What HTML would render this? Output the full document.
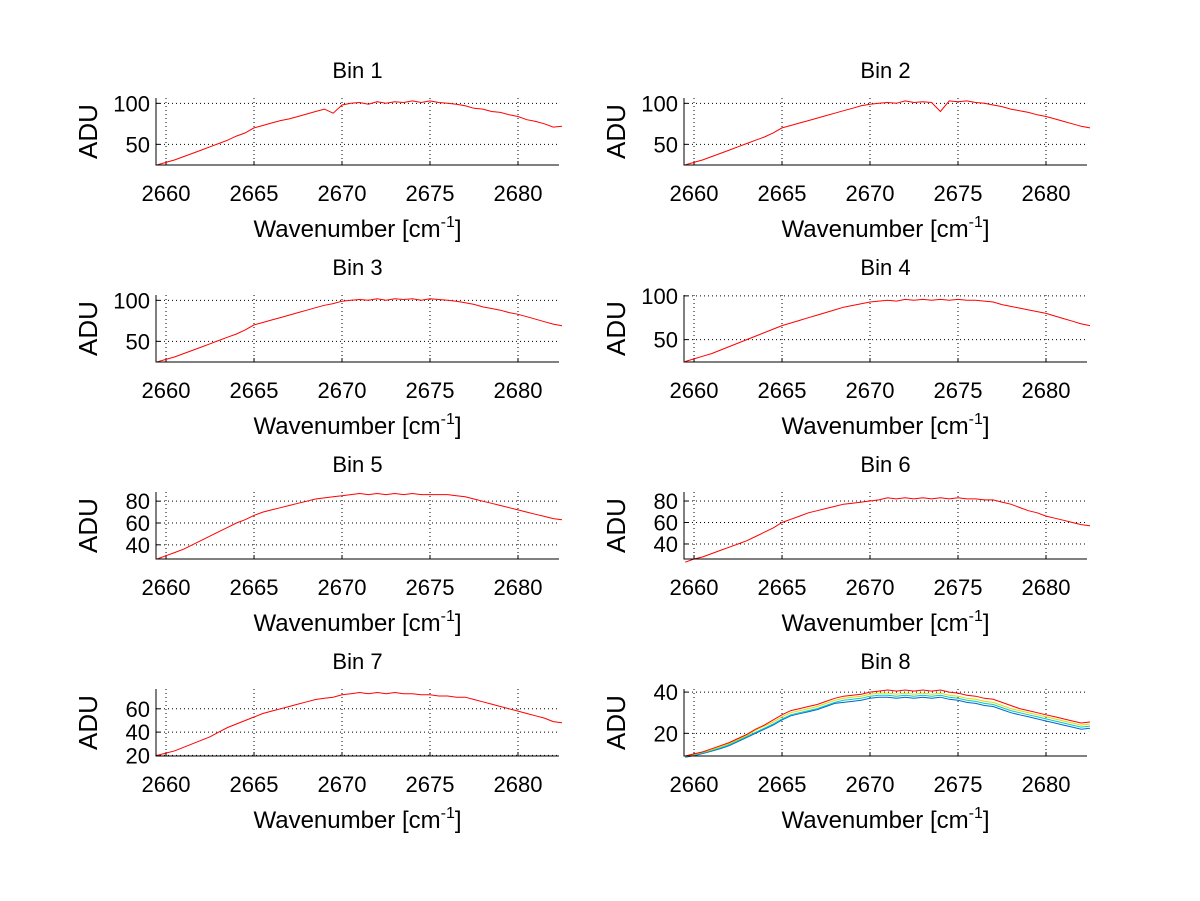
<!DOCTYPE html>
<html><head><meta charset="utf-8"><style>
html,body{margin:0;padding:0;background:#fff;}
svg{display:block;font-family:"Liberation Sans",sans-serif;}
</style></head><body>
<svg id="fig" width="1200" height="901" viewBox="0 0 1200 901" xmlns="http://www.w3.org/2000/svg"></svg>
<script>
const wavenumbers = [2659.5,2660,2660.5,2661,2661.5,2662,2662.5,2663,2663.5,2664,2664.5,2665,2665.5,2666,2666.5,2667,2667.5,2668,2668.5,2669,2669.5,2670,2670.5,2671,2671.5,2672,2672.5,2673,2673.5,2674,2674.5,2675,2675.5,2676,2676.5,2677,2677.5,2678,2678.5,2679,2679.5,2680,2680.5,2681,2681.5,2682,2682.5];
const xTicks = [2660,2665,2670,2675,2680];
const bin1 = [25,28,31,35,39,43,47,51,55,60,64,70,73,76,79,81,84,87,90,93,88,98,100,101,99,102,100,102,101,103,101,103,101,100,99,97,94,93,90,89,86,84,80,78,75,71,72];
const bin2 = [25,28,31,35,39,43,47,51,55,59,64,70,73,76,79,82,85,88,91,94,97,99,100,101,100,103,101,102,101,90,103,102,103,101,100,98,96,93,91,89,86,84,81,78,75,72,70];
const bin3 = [25,28,31,35,39,43,47,51,55,59,64,70,73,76,79,82,85,88,91,94,96,99,100,101,100,102,100,102,101,102,100,102,101,100,99,97,95,92,90,88,85,83,80,77,74,71,69];
const bin4 = [25,28,31,34,38,42,46,50,54,58,62,66,69,72,75,78,81,84,87,89,91,93,94,95,94,96,95,96,95,96,95,96,95,95,94,93,90,88,86,84,82,80,77,74,71,68,66];
const bin5 = [27,30,33,36,40,44,48,52,56,60,63,67,70,72,74,76,78,80,82,83,84,85,86,87,86,87,86,87,86,87,86,86,86,86,85,84,82,80,78,76,74,72,70,68,66,64,63];
const bin6 = [23,26,28,31,34,37,40,43,47,51,55,60,63,66,69,71,73,75,77,78,79,80,81,83,82,83,82,83,82,83,82,83,82,82,81,81,79,77,74,71,69,66,64,62,60,58,57];
const bin7 = [20,22,24,27,30,33,36,40,44,47,50,53,56,58,60,62,64,66,68,69,70,72,73,74,73,74,73,74,73,73,72,72,71,71,70,70,68,66,64,62,60,58,56,54,52,49,48];
const bin8Red = [9,10,11,12.5,14,15.5,17.5,19.5,22,24,26.5,29,31,32,33,34,35.5,37,38,38.5,39,40,40.5,41,40.5,41,40.5,41,40.5,41,40,39.5,38.5,38,37,36.5,35,33.5,32,31,30,29,28,27,26,25,25.5];
const bin8Yellow = [8.8,9.8,10.8,12,13.5,15,17,19,21.5,23.5,25.5,28,30,31,32,33,34.5,36,37,37.5,38,39,39.5,39.5,39,39.5,39,39.5,39,39.5,38.5,38,37,36.5,35.5,35,33.5,32,31,30,29,28,27,26,25,24,24.5];
const bin8Cyan = [8.6,9.5,10.5,11.7,13,14.5,16.5,18.5,20.5,22.5,24.5,27,29,30,31,32,33.5,35,36,36.5,37,38,38.5,38.5,38,38.5,38,38.5,38,38.5,37.5,37,36,35.5,34.5,34,32.5,31,30,29,28,27,26,25,24,23,23.5];
const bin8Blue = [8.4,9.2,10.2,11.4,12.6,14,16,18,20,22,24,26.5,28.5,29.5,30.5,31.5,33,34.5,35,35.5,36,37,37.5,37.5,37,37.5,37,37.5,37,37.5,36.5,36,35,34.5,33.5,33,31.5,30,29,28,27,26,25,24,23,22,22.5];

const panels = [
 {title:"Bin 1", col:0,row:0, ymin:24.8, ymax:106.5, yticks:[50,100], series:[[bin1,"#ff0000"]]},
 {title:"Bin 2", col:1,row:0, ymin:24.8, ymax:106.5, yticks:[50,100], series:[[bin2,"#ff0000"]]},
 {title:"Bin 3", col:0,row:1, ymin:24.8, ymax:106.5, yticks:[50,100], series:[[bin3,"#ff0000"]]},
 {title:"Bin 4", col:1,row:1, ymin:24.4, ymax:101, yticks:[50,100], series:[[bin4,"#ff0000"]]},
 {title:"Bin 5", col:0,row:2, ymin:27, ymax:88.4, yticks:[40,60,80], series:[[bin5,"#ff0000"]]},
 {title:"Bin 6", col:1,row:2, ymin:26, ymax:88.4, yticks:[40,60,80], series:[[bin6,"#ff0000"]]},
 {title:"Bin 7", col:0,row:3, ymin:19.5, ymax:77, yticks:[20,40,60], series:[[bin7,"#ff0000"]]},
 {title:"Bin 8", col:1,row:3, ymin:9, ymax:41.5, yticks:[20,40], series:[[bin8Blue,"#0066cc"],[bin8Cyan,"#00cccc"],[bin8Yellow,"#dddd00"],[bin8Red,"#ff0000"]]}
];
const NS="http://www.w3.org/2000/svg";
const fig=document.getElementById('fig');
function mk(tag,attrs,parent,text){const e=document.createElementNS(NS,tag);for(const k in attrs)e.setAttribute(k,attrs[k]);if(text!==undefined)e.textContent=text;parent.appendChild(e);return e;}
const XMIN=2659.43, XMAX=2682.33;
panels.forEach((p,i)=>{
  const L=[156,684][p.col], R=[559,1087][p.col];
  const T=98+p.row*197, B=165+p.row*197;
  const g=mk('g',{},fig);
  
  
  const sx=v=>L+(v-XMIN)/(XMAX-XMIN)*(R-L);
  const sy=v=>B-(v-p.ymin)/(p.ymax-p.ymin)*(B-T);
  xTicks.forEach(t=>{
    const l=mk('line',{x1:sx(t),x2:sx(t),y1:T,y2:B,stroke:'#000','stroke-width':1,'stroke-dasharray':'1,3'},g);
    
    
    mk('line',{x1:sx(t),x2:sx(t),y1:B,y2:B-4,stroke:'#000'},g);
    const tx=mk('text',{x:sx(t),y:B+36,'font-size':22,'text-anchor':'middle'},g,String(t));
    
    
  });
  p.yticks.forEach(t=>{
    const l=mk('line',{x1:L,x2:R,y1:sy(t),y2:sy(t),stroke:'#000','stroke-width':1,'stroke-dasharray':'1,3'},g);
    
    
    mk('line',{x1:L,x2:L+4,y1:sy(t),y2:sy(t),stroke:'#000'},g);
    const tx=mk('text',{x:L-6,y:sy(t)+8,'font-size':22,'text-anchor':'end'},g,String(t));
    
    
  });
  p.series.forEach(([vals,col])=>{
    const d=vals.map((v,k)=>(k?'L':'M')+sx(wavenumbers[k]).toFixed(1)+','+sy(v).toFixed(1)).join('');
    const path=mk('path',{d:d,fill:'none',stroke:col,'stroke-width':1},g);
    
    
  });
  const ax=mk('path',{d:`M${L},${T}L${L},${B}L${R},${B}`,fill:'none',stroke:'#000','stroke-width':1},g);
  
  
  const ti=mk('text',{x:(L+R)/2,y:T-20,'font-size':22,'text-anchor':'middle'},g,p.title);
  
  
  const xl=mk('text',{x:(L+R)/2,y:B+72,'font-size':24,'text-anchor':'middle'},g);
  
  
  mk('tspan',{},xl,'Wavenumber [cm');
  mk('tspan',{dy:-10,'font-size':16},xl,'-1');
  mk('tspan',{dy:10},xl,']');
  const yl=mk('text',{x:0,y:0,'font-size':26,'text-anchor':'middle',transform:`translate(${L-59},${(T+B)/2}) rotate(-90)`},g,'ADU');
  
  
});
</script>
</body></html>
